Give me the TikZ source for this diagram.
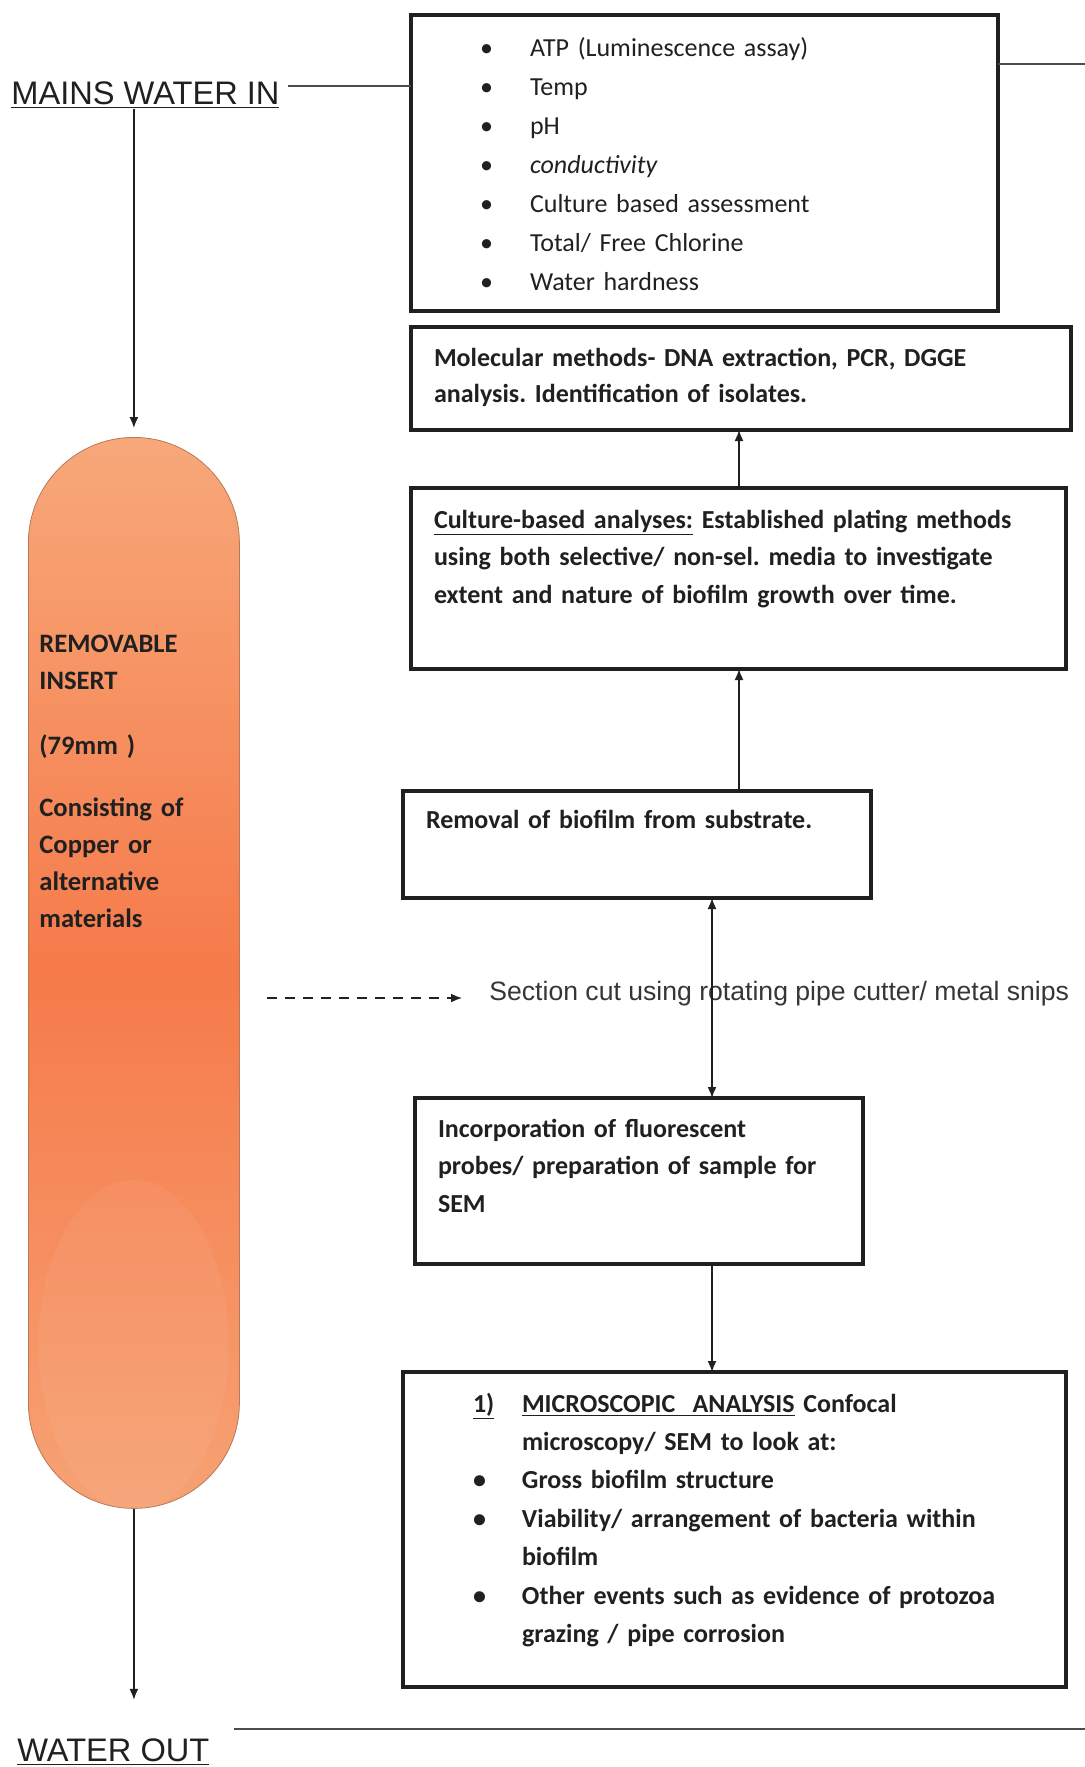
\documentclass[tikz,border=0pt]{standalone}
\usepackage{fontspec}
\setmainfont{Carlito}
\newfontfamily\arialfont{Liberation Sans}
\usepackage{tikz}
\usetikzlibrary{positioning}
\usetikzlibrary{arrows.meta}

\definecolor{inktone}{RGB}{32,32,32}
\definecolor{coppertop}{RGB}{247,168,122}
\definecolor{coppermid}{RGB}{246,122,74}
\definecolor{copperbot}{RGB}{246,162,116}

\tikzset{
  stage/.style={draw=inktone, line width=1.8pt, align=left, anchor=north west,
    inner xsep=11.5pt, inner ysep=0pt, outer sep=0pt, text=inktone,
    font=\bfseries\fontsize{13}{18.8}\selectfont},
  flow/.style={->, line width=0.8pt, draw=inktone},
  plain/.style={line width=0.8pt, draw=inktone!80},
  inout/.style={anchor=base west, inner sep=0pt, text=inktone,
    font=\arialfont\fontsize{16.3}{19}\selectfont},
}

\begin{document}
\frenchspacing
\begin{tikzpicture}[x=0.5pt, y=-0.5pt, >={Latex[length=5.5pt,width=4.5pt]}]
\useasboundingbox (0,0) rectangle (1085,1767);
% water in and out
\node (mains) [inout] at (11,104) {\underline{MAINS WATER IN}};
\node (wout) [inout] at (17,1761) {\underline{WATER OUT}};
% the insert
\node (insert) [anchor=north west, inner sep=0pt, minimum width=105.5pt, minimum height=535.5pt,
  rounded corners=52.7pt, draw=copperbot!75!black, line width=0.4pt,
  top color=coppertop, bottom color=copperbot, middle color=coppermid] at (28,437) {};
\fill[white, opacity=0.05] (133.5,1345) ellipse [x radius=95, y radius=165];
\node (insertlabel) [anchor=base west, inner sep=0pt, align=left, text width=95pt, text=inktone,
  font=\bfseries\fontsize{13.3}{18.5}\selectfont] at (39,652)
  {REMOVABLE\\ INSERT\\[14pt] (79mm )\\[12.5pt] Consisting of\\ Copper or\\ alternative\\ materials};
% water tests
\node (params) [stage, font=\fontsize{13}{19.5}\selectfont, inner xsep=34.5pt,
  text width=224.5pt, text height=20.5pt, text depth=127.5pt] at (411,15)
  {\makebox[25pt][l]{\textbullet}ATP (Luminescence assay)\\
   \makebox[25pt][l]{\textbullet}Temp\\
   \makebox[25pt][l]{\textbullet}pH\\
   \makebox[25pt][l]{\textbullet}\textit{conductivity}\\
   \makebox[25pt][l]{\textbullet}Culture based assessment\\
   \makebox[25pt][l]{\textbullet}Total/ Free Chlorine\\
   \makebox[25pt][l]{\textbullet}Water hardness};
% analysis chain
\node (molecular) [stage, below=8pt of params.south west, anchor=north west,
  font=\bfseries\fontsize{13}{18}\selectfont,
  text width=307pt, text height=19.5pt, text depth=32pt]
  {Molecular methods- DNA extraction, PCR, DGGE\\ analysis. Identification of isolates.};
\node (culture) [stage, below=29pt of molecular.south west, anchor=north west,
  text width=304.5pt, text height=20pt, text depth=70.5pt]
  {\underline{Culture-based analyses:} Established plating methods\\
   using both selective/ non-sel. media to investigate\\
   extent and nature of biofilm growth over time.};
\node (removal) [stage, below right=61pt and -4pt of culture.south west, anchor=north west,
  text width=211pt, text height=18.5pt, text depth=35pt]
  {Removal of biofilm from substrate.};
\node (cut) [anchor=base west, inner sep=0pt, text=inktone!90,
  font=\arialfont\fontsize{13.3}{16}\selectfont] at (489,1000)
  {Section cut using rotating pipe cutter/ metal snips};
\node (probes) [stage, below right=100pt and 6pt of removal.south west, anchor=north west,
  text width=201pt, text height=19.5pt, text depth=63.5pt]
  {Incorporation of fluorescent\\ probes/ preparation of sample for\\ SEM};
\node (micro) [stage, below right=54pt and -6pt of probes.south west, anchor=north west,
  font=\bfseries\fontsize{13}{19.2}\selectfont,
  text width=308.5pt, text height=20pt, text depth=137.5pt]
  {\hspace*{23.5pt}\makebox[24.5pt][l]{\underline{1)}}\underline{MICROSCOPIC\ \ ANALYSIS} Confocal\\
   \hspace*{48pt}microscopy/ SEM to look at:\\
   \hspace*{23.5pt}\makebox[24.5pt][l]{\textbullet}Gross biofilm structure\\
   \hspace*{23.5pt}\makebox[24.5pt][l]{\textbullet}Viability/ arrangement of bacteria within\\
   \hspace*{48pt}biofilm\\
   \hspace*{23.5pt}\makebox[24.5pt][l]{\textbullet}Other events such as evidence of protozoa\\
   \hspace*{48pt}grazing / pipe corrosion};
% free ends
\coordinate (feed) at (1085,64);
\coordinate (cutfrom) at (267,998);
\coordinate (drainl) at (234,1729);
\coordinate (drainr) at (1085,1729);
\coordinate (riser) at ([xshift=51pt]removal.north);
\coordinate (spine) at ([xshift=37.5pt]removal.south);
% lines
\draw[plain] ([xshift=4pt, yshift=9pt]mains.base east) -- ([yshift=9pt]mains.base east -| params.west);
\draw[plain] (params.east |- feed) -- (feed);
\draw[plain] (drainl) -- (drainr);
\draw[flow] (mains.south -| insert.north) -- ([yshift=4.5pt]insert.north);
\draw[flow] (insert.south) -- ([yshift=19pt]wout.north -| insert.south);
\draw[flow, dash pattern=on 5pt off 4pt] (cutfrom) -- ([xshift=-13.5pt, yshift=1pt]cut.base west);
% arrows
\draw[flow] (riser) -- (riser |- culture.south);
\draw[flow] (riser |- culture.north) -- (riser |- molecular.south);
\draw[flow, <->] (spine) -- (spine |- probes.north);
\draw[flow] (spine |- probes.south) -- (spine |- micro.north);
\end{tikzpicture}
\end{document}
